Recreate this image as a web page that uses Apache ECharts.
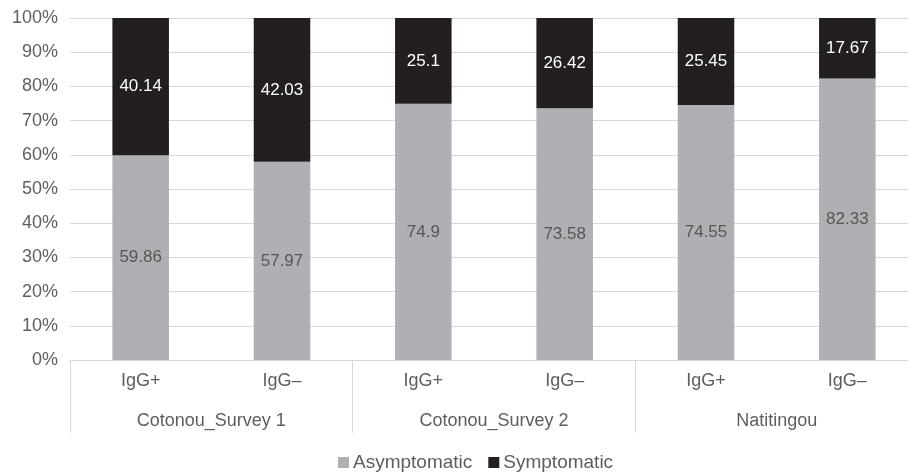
<!DOCTYPE html>
<html>
<head>
<meta charset="utf-8">
<script src="https://cdn.jsdelivr.net/npm/echarts@6/dist/echarts.min.js"></script>
<style>
  html, body { margin: 0; padding: 0; background: #fff; width: 908px; height: 474px; overflow: hidden; }
  /* the plot area continues a little past the visible right edge */
  #chart { width: 930px; height: 474px; }
</style>
</head>
<body>
<div id="chart"></div>
<script>
// Antibody status within each survey site
const statusLabels = ['IgG+', 'IgG\u2013', 'IgG+', 'IgG\u2013', 'IgG+', 'IgG\u2013'];
const siteLabels = ['Cotonou_Survey 1', 'Cotonou_Survey 2', 'Natitingou'];
// Share of participants (%) per group
const asymptomatic = [59.86, 57.97, 74.9, 73.58, 74.55, 82.33];
const symptomatic = [40.14, 42.03, 25.1, 26.42, 25.45, 17.67];
const yTicks = [0, 10, 20, 30, 40, 50, 60, 70, 80, 90, 100];

const FONT = '"Liberation Sans", Arial, Helvetica, sans-serif';
const TEXT = '#5e5e5e';
const LINE = '#d9d9d9';

const chart = echarts.init(document.getElementById('chart'), null, { renderer: 'canvas' });

chart.setOption({
  animation: false,
  textStyle: { fontFamily: FONT },
  grid: { left: 70, right: 12, top: 18, bottom: 114, containLabel: false },
  legend: {
    data: ['Asymptomatic', 'Symptomatic'],
    left: 338,
    top: 453,
    padding: 0,
    itemWidth: 11,
    itemHeight: 11,
    itemGap: 16,
    icon: 'rect',
    textStyle: { fontFamily: FONT, fontSize: 19, color: TEXT, padding: [0, 0, 0, -1] }
  },
  xAxis: [
    {
      type: 'category',
      data: statusLabels,
      position: 'bottom',
      axisLine: { show: true, lineStyle: { color: LINE, width: 1 } },
      axisTick: { show: false },
      axisLabel: { interval: 0, margin: 12, fontSize: 18, color: TEXT, fontFamily: FONT }
    },
    {
      type: 'category',
      data: siteLabels,
      position: 'bottom',
      axisLine: { show: false },
      axisTick: { show: true, length: 73, interval: 0, lineStyle: { color: LINE, width: 1 } },
      axisLabel: { interval: 0, margin: 52, fontSize: 18, color: TEXT, fontFamily: FONT }
    }
  ],
  yAxis: {
    type: 'value',
    min: yTicks[0],
    max: yTicks[yTicks.length - 1],
    interval: yTicks[1] - yTicks[0],
    axisLine: { show: false },
    axisTick: { show: false },
    splitLine: { show: true, lineStyle: { color: LINE, width: 1 } },
    axisLabel: { formatter: '{value}%', margin: 12, fontSize: 18, color: TEXT, fontFamily: FONT }
  },
  series: [
    {
      name: 'Asymptomatic',
      type: 'bar',
      stack: 'total',
      barWidth: '40%',
      xAxisIndex: 0,
      data: asymptomatic,
      itemStyle: { color: '#afb0b3' },
      label: { show: true, position: 'inside', fontSize: 17, color: '#565656', fontFamily: FONT }
    },
    {
      name: 'Symptomatic',
      type: 'bar',
      stack: 'total',
      barWidth: '40%',
      xAxisIndex: 0,
      data: symptomatic,
      itemStyle: { color: '#231f20' },
      label: { show: true, position: 'inside', fontSize: 17, color: '#ffffff', fontFamily: FONT }
    }
  ]
});
</script>
</body>
</html>
